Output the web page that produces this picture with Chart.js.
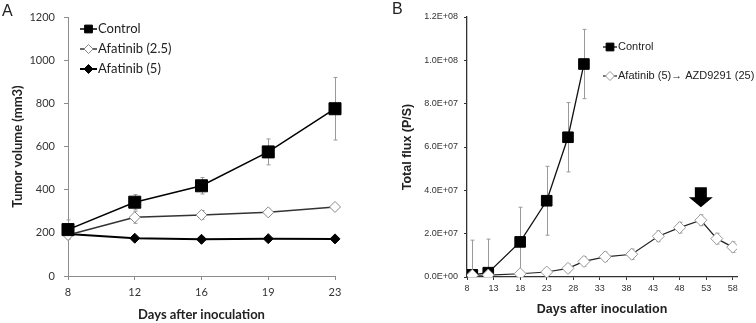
<!DOCTYPE html>
<html>
<head>
<meta charset="utf-8">
<script src="https://cdn.jsdelivr.net/npm/chart.js@4.4.0/dist/chart.umd.min.js"></script>
<style>
  html, body { margin: 0; padding: 0; background: #fff; }
  #wrap { position: relative; width: 756px; height: 323px; }
  .panel { position: absolute; top: 0; width: 378px; height: 323px; }
  .tag { position: absolute; font-family: "Liberation Sans", Arial, sans-serif; font-size: 16px; line-height: 1; color: #222; }
</style>
</head>
<body>
<div id="wrap">
  <div class="panel" style="left:0"><canvas id="chartA" width="378" height="323"></canvas></div>
  <div class="panel" style="left:378px"><canvas id="chartB" width="378" height="323"></canvas></div>
  <div class="tag" style="left:2px;top:3px">A</div>
  <div class="tag" style="left:392px;top:1px">B</div>
</div>
<script>
// ---- panel A: tumor volume ----
const daysA = ['8', '12', '16', '19', '23'];
const yTicksA = [0, 200, 400, 600, 800, 1000, 1200];
const controlA = [215, 342, 418, 575, 775];
const controlAErr = [45, 35, 38, 60, 145];
const afat25A = [190, 272, 283, 295, 320];
const afat25AErr = [15, 28, 20, 15, 10];
const afat5A = [195, 175, 170, 173, 172];
const afat5AErr = [8, 8, 6, 6, 6];

// ---- panel B: total flux ----
const xTicksB = [8, 13, 18, 23, 28, 33, 38, 43, 48, 53, 58];
const yTicksB = [0, 2e7, 4e7, 6e7, 8e7, 1e8, 1.2e8];
const yTickLabelsB = ['0.0E+00', '2.0E+07', '4.0E+07', '6.0E+07', '8.0E+07', '1.0E+08', '1.2E+08'];
const daysControlB = [9, 12, 18, 23, 27, 30];
const controlB = [1.0e6, 2.0e6, 1.62e7, 3.52e7, 6.45e7, 9.83e7];
const controlBErr = [1.6e7, 1.55e7, 1.6e7, 1.59e7, 1.6e7, 1.6e7];
const daysAfatB = [9, 12, 18, 23, 27, 30, 34, 39, 44, 48, 52, 55, 58];
const afatB = [0.8e6, 0.9e6, 1.5e6, 2.3e6, 4.0e6, 7.2e6, 9.3e6, 1.05e7, 1.88e7, 2.28e7, 2.62e7, 1.77e7, 1.38e7];
const afatBErr = [1.2e6, 1.2e6, 1.5e6, 1.5e6, 2e6, 2.2e6, 2.2e6, 2.4e6, 2.5e6, 2.5e6, 2.5e6, 2.5e6, 2.4e6];
const arrowDayB = 52;

// error bars, drawn under the lines; clipped at the x axis
const errorBars = {
    id: 'errorBars',
    beforeDatasetsDraw(chart) {
        const { ctx, chartArea, scales } = chart;
        ctx.save();
        ctx.beginPath();
        ctx.rect(chartArea.left - 10, chartArea.top - 10, chartArea.right - chartArea.left + 20, chartArea.bottom - chartArea.top + 10);
        ctx.clip();
        ctx.strokeStyle = '#9a9a9a';
        ctx.lineWidth = 1;
        chart.data.datasets.forEach((ds, i) => {
            if (!ds.errors) return;
            const meta = chart.getDatasetMeta(i);
            meta.data.forEach((pt, j) => {
                const raw = ds.data[j];
                const v = typeof raw === 'object' ? raw.y : raw;
                const e = ds.errors[j];
                const top = scales.y.getPixelForValue(v + e);
                const bot = scales.y.getPixelForValue(v - e);
                const x = Math.round(pt.x) + 0.5;
                ctx.beginPath();
                ctx.moveTo(x, top); ctx.lineTo(x, bot);
                ctx.moveTo(x - 2, top); ctx.lineTo(x + 2, top);
                ctx.moveTo(x - 2, bot); ctx.lineTo(x + 2, bot);
                ctx.stroke();
            });
        });
        ctx.restore();
    }
};

// small legend drawn inside the plot
const innerLegend = {
    id: 'innerLegend',
    afterDraw(chart, args, opts) {
        const { ctx } = chart;
        ctx.save();
        ctx.font = opts.font;
        ctx.textBaseline = 'middle';
        chart.data.datasets.forEach((ds, i) => {
            const y = opts.rows[i];
            ctx.strokeStyle = ds.borderColor;
            ctx.lineWidth = ds.borderWidth;
            ctx.beginPath();
            ctx.moveTo(opts.x, y);
            ctx.lineTo(opts.x + opts.lineLen, y);
            ctx.stroke();
            ctx.fillStyle = ds.pointBackgroundColor;
            ctx.strokeStyle = ds.pointBorderColor;
            ctx.lineWidth = 1;
            Chart.helpers.drawPoint(ctx, { pointStyle: ds.pointStyle, radius: opts.radius[i], borderWidth: 1, rotation: 0 },
                opts.x + opts.lineLen / 2, y);
            ctx.fillStyle = '#222';
            ctx.fillText(ds.label, opts.x + opts.lineLen + 1, y);
        });
        ctx.restore();
    }
};

// arrow above the point where treatment switched
const switchArrow = {
    id: 'switchArrow',
    afterDatasetsDraw(chart) {
        const { ctx, scales } = chart;
        const px = scales.x.getPixelForValue(arrowDayB);
        const py = scales.y.getPixelForValue(afatB[daysAfatB.indexOf(arrowDayB)]);
        const tip = py - 13;
        ctx.save();
        ctx.fillStyle = '#000';
        ctx.beginPath();
        ctx.moveTo(px - 6, tip - 20);
        ctx.lineTo(px + 6, tip - 20);
        ctx.lineTo(px + 6, tip - 10);
        ctx.lineTo(px + 12, tip - 10);
        ctx.lineTo(px, tip);
        ctx.lineTo(px - 12, tip - 10);
        ctx.lineTo(px - 6, tip - 10);
        ctx.closePath();
        ctx.fill();
        ctx.restore();
    }
};

const fontA = 'Lato, "Open Sans", sans-serif';
const fontB = '"Liberation Sans", Arial, sans-serif';

new Chart(document.getElementById('chartA').getContext('2d'), {
    type: 'line',
    data: {
        labels: daysA,
        datasets: [
            {
                label: 'Control',
                data: controlA,
                errors: controlAErr,
                borderColor: '#000',
                borderWidth: 1.5,
                pointStyle: 'rect',
                pointRadius: 8.5,
                pointBackgroundColor: '#000',
                pointBorderColor: '#000',
                pointBorderWidth: 1,
                tension: 0,
            },
            {
                label: 'Afatinib (2.5)',
                data: afat25A,
                errors: afat25AErr,
                borderColor: '#333',
                borderWidth: 1.5,
                pointStyle: 'rectRot',
                pointRadius: 5.5,
                pointBackgroundColor: '#fff',
                pointBorderColor: '#888',
                pointBorderWidth: 1,
                tension: 0,
            },
            {
                label: 'Afatinib (5)',
                data: afat5A,
                errors: afat5AErr,
                borderColor: '#000',
                borderWidth: 2,
                pointStyle: 'rectRot',
                pointRadius: 5,
                pointBackgroundColor: '#000',
                pointBorderColor: '#000',
                pointBorderWidth: 1,
                tension: 0,
            },
        ],
    },
    options: {
        responsive: false,
        animation: false,
        events: [],
        layout: { padding: { left: 0, top: 17, right: 43, bottom: 0 } },
        plugins: {
            legend: { display: false },
            tooltip: { enabled: false },
            innerLegend: { x: 80, lineLen: 17, rows: [29, 49, 69], radius: [5.5, 4.5, 4.5], font: '13px ' + fontA },
        },
        scales: {
            x: {
                type: 'category',
                offset: false,
                afterFit: (s) => { s.height = 47; },
                grid: { display: true, drawOnChartArea: false, drawTicks: true, tickLength: 4, color: '#8c8c8c' },
                border: { display: true, color: '#8c8c8c', width: 1 },
                ticks: { color: '#333', padding: 6, font: { family: fontA, size: 11 } },
                title: { display: true, text: 'Days after inoculation', color: '#222', padding: { top: 0, bottom: 0 }, font: { family: fontA, size: 13, weight: 'bold' } },
            },
            y: {
                min: 0,
                max: 1200,
                afterFit: (s) => { s.width = 68; },
                afterBuildTicks: (s) => { s.ticks = yTicksA.map(v => ({ value: v })); },
                grid: { display: true, drawOnChartArea: false, drawTicks: true, tickLength: 4, color: '#8c8c8c' },
                border: { display: true, color: '#8c8c8c', width: 1 },
                ticks: { color: '#333', padding: 9, font: { family: fontA, size: 11 }, callback: (v) => String(v) },
                title: { display: true, text: 'Tumor volume (mm3)', color: '#222', padding: { top: 10, bottom: 0 }, font: { family: fontA, size: 13, weight: 'bold' } },
            },
        },
    },
    plugins: [errorBars, innerLegend],
});

new Chart(document.getElementById('chartB').getContext('2d'), {
    type: 'line',
    data: {
        datasets: [
            {
                label: 'Control',
                data: daysControlB.map((d, i) => ({ x: d, y: controlB[i] })),
                errors: controlBErr,
                order: 1,
                borderColor: '#111',
                borderWidth: 1.3,
                pointStyle: 'rect',
                pointRadius: 7.5,
                pointBackgroundColor: '#000',
                pointBorderColor: '#000',
                pointBorderWidth: 1,
                tension: 0,
            },
            {
                label: 'Afatinib (5)\u2192 AZD9291 (25)',
                data: daysAfatB.map((d, i) => ({ x: d, y: afatB[i] })),
                errors: afatBErr,
                order: 0,
                borderColor: '#222',
                borderWidth: 1.2,
                pointStyle: 'rectRot',
                pointRadius: 6,
                pointBackgroundColor: '#fff',
                pointBorderColor: '#999',
                pointBorderWidth: 1,
                tension: 0,
            },
        ],
    },
    options: {
        responsive: false,
        animation: false,
        events: [],
        layout: { padding: { left: 0, top: 17, right: 19, bottom: 0 } },
        plugins: {
            legend: { display: false },
            tooltip: { enabled: false },
            innerLegend: { x: 225, lineLen: 14, rows: [47, 76], radius: [5.5, 4.5], font: '11px ' + fontB },
        },
        scales: {
            x: {
                type: 'linear',
                min: 8,
                max: 58.8,
                afterFit: (s) => { s.height = 46; },
                afterBuildTicks: (s) => { s.ticks = xTicksB.map(v => ({ value: v })); },
                grid: { display: true, drawOnChartArea: false, drawTicks: true, tickLength: 3, color: '#333' },
                border: { display: true, color: '#333', width: 1.3 },
                ticks: { color: '#333', padding: 3, font: { family: fontB, size: 9 } },
                title: { display: true, text: 'Days after inoculation', color: '#222', padding: { top: 0, bottom: 6 }, font: { family: fontB, size: 12.5, weight: 'bold' } },
            },
            y: {
                min: 0,
                max: 1.2e8,
                afterFit: (s) => { s.width = 89; },
                afterBuildTicks: (s) => { s.ticks = yTicksB.map(v => ({ value: v })); },
                grid: { display: true, drawOnChartArea: false, drawTicks: true, tickLength: 3, color: '#333' },
                border: { display: true, color: '#333', width: 1.3 },
                ticks: {
                    color: '#333',
                    padding: 6,
                    font: { family: fontB, size: 9 },
                    callback: (v) => yTickLabelsB[yTicksB.indexOf(v)],
                },
                title: { display: true, text: 'Total flux (P/S)', color: '#222', padding: { top: 22, bottom: 0 }, font: { family: fontB, size: 12.5, weight: 'bold' } },
            },
        },
    },
    plugins: [errorBars, innerLegend, switchArrow],
});
</script>
</body>
</html>
